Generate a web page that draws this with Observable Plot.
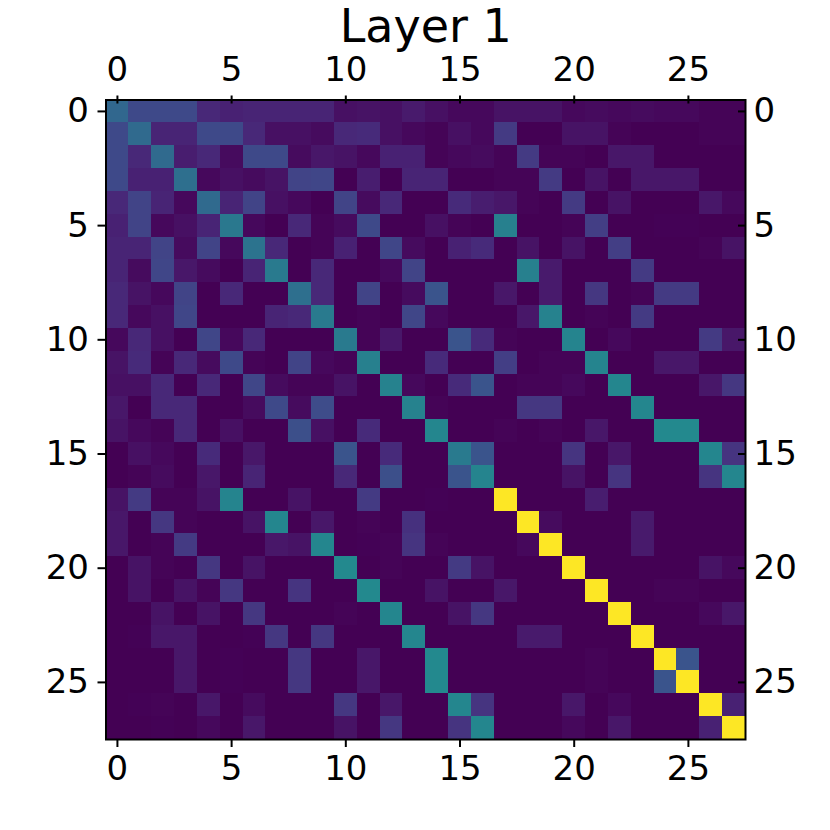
<!DOCTYPE html>
<html><head><meta charset="utf-8">
<script src="https://cdn.jsdelivr.net/npm/d3@7"></script>
<script src="https://cdn.jsdelivr.net/npm/@observablehq/plot@0.6"></script>
<style>html,body{margin:0;padding:0;background:#fff}svg{display:block}</style>
</head><body><div id="chart"></div>
<script>
const titleText = "Layer 1";
const tickValues = [0,5,10,15,20,25];
const row0  = [33,22,22,22,11,9,10,10,10,10,4,5,4,7,4,2,2,5,5,5,2,3,2,3,2,2,1,1];
const row1  = [22,34,10,10,22,22,11,4,4,3,11,12,4,2,1,4,2,17,0,0,5,5,1,0,0,0,1,1];
const row2  = [22,11,34,8,11,3,22,22,3,6,5,2,9,9,1,2,3,1,17,1,1,0,6,6,0,0,0,0];
const row3  = [22,9,9,36,2,4,3,5,20,21,0,8,0,10,10,0,0,1,1,17,0,5,0,6,6,6,0,0];
const row4  = [11,20,10,2,34,10,20,4,2,0,20,3,11,0,0,12,8,6,1,0,17,0,5,0,0,0,6,2];
const row5  = [9,20,2,4,10,40,2,0,11,1,3,22,0,0,4,1,0,43,0,0,1,18,0,0,0.5,0.5,0,0];
const row6  = [10,10,20,3,20,2,38,11,0,1,9,0,21,3,0,9,12,0,5,0,5,0,18,0,0,0,1,5];
const row7  = [10,3,21,6,3,0,10,41,0,11,0,0,2,20,0,0,0,0,43,7,0,0,0,17,0,0,0,0];
const row8  = [11,5,2,20,0,11,0,0,36,11,0,20,0,3,26,0,0,6,0,7,0,16,0,1,17,17,0,0];
const row9  = [11,2,4,21,0,0,0,10,11,41,0,1,0,21,2,0,0,0,6,44,0,1,0,17,0,0,0,0];
const row10 = [2,11,4,0,21,2,11,0,0,0,41,1,6,0,0,26,12,1,0,0,45,0,2,0,0,0,17,6];
const row11 = [5,12,1,11,3,22,1,0,20,2,1,43,0,0,12,0,0,18,0,1,1,45,0,0,6,6,0,0];
const row12 = [4,4,11,0,11,0,21,3,1,1,5,0,44,2,0,12,26,0,1,1,2,0,46,0,0,0,6,16];
const row13 = [6,0,11,11,0,0,3,22,3,23,0,0,0,44,1,0,0,0,16,16,0,0,0,46,0,0,0,0];
const row14 = [5,2,1,11,0,4,0,0,24,4,0,12,0,0,46,0,0,1,0,1,0,6,0,0,47,47,0,0];
const row15 = [0,4,2,0,12,0,6,0,0,0,26,0,12,0,0,41,26,0,0,0,15,0,6,0,0,0,46,15];
const row16 = [0,1,3,0,6,0,10,0,0,0,11,0,24,0,0,26,45,0,0,0,5,0,15,0,0,0,15,46];
const row17 = [5,17,1,1,5,45,0,0,5,0,0,17,0,0,0.5,0,0,100,0,0,0,8,0,0,0,0,0,0];
const row18 = [6,0,16,1,0,0,5,46,0,6,0,1,0,14,0,0,0,0,100,3,0,0,0,7,0,0,0,0];
const row19 = [6,0,1,17,0,0,0,6,5,46,0,0.5,1,15,1,0,0,0,2,100,0,0,0,7,0,0,0,0];
const row20 = [0,5,1,0,16,0,5,0,0,0,47,0,1,0,0,17,5,0,0,0,100,0,0,0,0,0,5,2];
const row21 = [0,5,0,5,1,16,0,0,15,0,0,47,0,0,5,0,0,6,0,0,0,100,0,0,1,1,0,0];
const row22 = [0,0,5,0,5,0,16,0,0,0,1,0,46,0,0,5,16,0,0,0,0,0,100,0,0,0,2,6];
const row23 = [0,0.5,6,6,0,0,0.5,16,0,16,0,0,0,46,0,0,0,0,7,7,0,0,0,100,0,0,0,0];
const row24 = [0,0,0,6,0,0.5,0,0,16,0,0,6,0,0,47,0,0,0,0,0,0,1,0,0,100,26,0,0];
const row25 = [0,0,0,6,0,0.5,0,0,16,0,0,6,0,0,47,0,0,0,0,0,0,1,0,0,26,100,0,0];
const row26 = [0,0.5,1,0,6,0,3,0,0,0,16,0,6,0,0,46,15,0,0,0,6,0,2,0,0,0,100,9];
const row27 = [0,0,0.5,0,2,0,6,0,0,0,5,0,16,0,0,15,46,0,0,0,2,0,6,0,0,0,9,100];
const rows = [row0,row1,row2,row3,row4,row5,row6,row7,row8,row9,row10,row11,row12,row13,row14,row15,row16,row17,row18,row19,row20,row21,row22,row23,row24,row25,row26,row27];
const cells = rows.flatMap((r,i)=>r.map((v,j)=>({row:i,col:j,v})));
const idx = d3.range(28);
const axisOpts = {ticks:tickValues,strokeWidth:2,fontSize:34,label:null};
const fig = Plot.plot({
  width:830,height:830,marginLeft:105.5,marginRight:85,marginTop:99.5,marginBottom:91,
  style:{fontFamily:"'DejaVu Sans',sans-serif",background:"#fff",color:"#000"},
  x:{type:"band",domain:idx,padding:0,round:false},
  y:{type:"band",domain:idx,padding:0,round:false},
  color:{type:"linear",scheme:"viridis",domain:[0,100]},
  marks:[
    Plot.cell(cells,{x:"col",y:"row",fill:"v",shapeRendering:"crispEdges"}),
    Plot.frame({stroke:"#000",strokeWidth:2}),
    Plot.axisX({...axisOpts,anchor:"top",tickSize:5,tickPadding:14}),
    Plot.axisX({...axisOpts,anchor:"top",tickSize:-3,tickFormat:null}),
    Plot.axisX({...axisOpts,anchor:"bottom",tickSize:8,tickPadding:8}),
    Plot.axisY({...axisOpts,anchor:"left",tickSize:8,tickPadding:9}),
    Plot.axisY({...axisOpts,anchor:"right",tickSize:-8,tickPadding:16}),
    Plot.text([titleText],{frameAnchor:"top",dy:-91,fontSize:46,lineAnchor:"top",fill:"#000"})
  ]
});
document.getElementById("chart").appendChild(fig);
</script></body></html>
